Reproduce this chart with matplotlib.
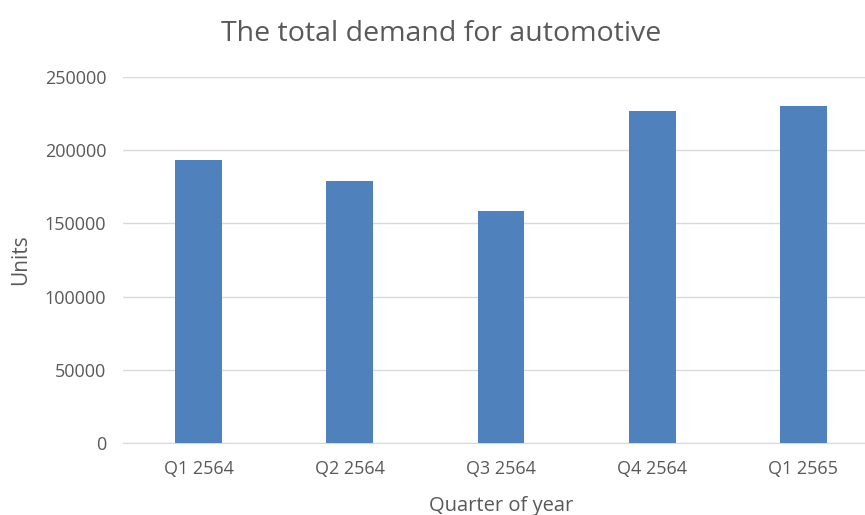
import matplotlib
matplotlib.use("Agg")
from matplotlib import pyplot as plt

# Data
quarters = ["Q1 2564", "Q2 2564", "Q3 2564", "Q4 2564", "Q1 2565"]
units = [193000, 179000, 158500, 226500, 230500]
y_ticks = [0, 50000, 100000, 150000, 200000, 250000]

plt.rcParams['font.family'] = ['Open Sans', 'DejaVu Sans']
text_col = '#595959'

fig = plt.figure(figsize=(8.65, 5.15), dpi=100)
# plot area runs past the right edge of the picture, as in the cropped original
ax = fig.add_axes([123/865, 72/515, 756/865, 366/515])

x = range(len(quarters))
ax.bar(x, units, width=0.31, color='#4F81BD', zorder=3)

ax.set_xlim(-0.5, len(quarters) - 0.5)
ax.set_ylim(0, 250000)
ax.set_yticks(y_ticks)
ax.set_yticklabels([str(t) for t in y_ticks])
ax.set_xticks(list(x))
ax.set_xticklabels(quarters)

ax.grid(axis='y', color='#d9d9d9', linewidth=1, zorder=0)
for s in ['top', 'right', 'left']:
    ax.spines[s].set_visible(False)
ax.spines['bottom'].set_color('#d9d9d9')
ax.tick_params(axis='both', length=0, labelsize=13, colors=text_col)
ax.tick_params(axis='y', pad=12)
ax.tick_params(axis='x', pad=12)

ax.set_xlabel('Quarter of year', fontsize=14.5, color=text_col, labelpad=13)
ax.set_ylabel('Units', fontsize=15, color=text_col, labelpad=10)

fig.text(441/865, 1 - 34/515, 'The total demand for automotive', ha='center', va='center',
         fontsize=20.5, color=text_col)

fig.savefig('out.png', dpi=100)
